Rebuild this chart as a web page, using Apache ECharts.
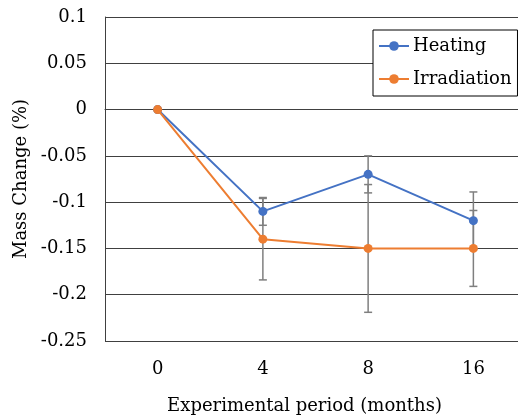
<!DOCTYPE html>
<html>
<head>
<meta charset="utf-8">
<script src="https://cdn.jsdelivr.net/npm/echarts@6/dist/echarts.min.js"></script>
<style>html,body{margin:0;padding:0;background:#fff}#c{width:518px;height:418px}</style>
</head>
<body>
<div id="c"></div>
<script>
const categories = ['0', '4', '8', '16'];
const heating = [0, -0.11, -0.07, -0.12];
const irradiation = [0, -0.14, -0.15, -0.15];
const heatingErr = [0, 0.015, 0.02, 0.031];
const irradiationErr = [0, 0.044, 0.069, 0.041];
const yTicks = { min: -0.25, max: 0.1, interval: 0.05 };

const FONT = 'DejaVu Serif';
const FS = 18;
function errData(vals, errs) {
  return vals.map((v, i) => [i, v - errs[i], v + errs[i]]);
}
function renderErr(params, api) {
  const x = api.value(0);
  const lo = api.coord([x, api.value(1)]);
  const hi = api.coord([x, api.value(2)]);
  if (Math.abs(lo[1] - hi[1]) < 0.5) return null;
  const w = 4;
  const style = { stroke: '#7f7f7f', lineWidth: 1.5 };
  return {
    type: 'group',
    children: [
      { type: 'line', shape: { x1: lo[0], y1: lo[1], x2: hi[0], y2: hi[1] }, style },
      { type: 'line', shape: { x1: lo[0] - w, y1: lo[1], x2: lo[0] + w, y2: lo[1] }, style },
      { type: 'line', shape: { x1: hi[0] - w, y1: hi[1], x2: hi[0] + w, y2: hi[1] }, style }
    ]
  };
}
const chart = echarts.init(document.getElementById('c'), null, { renderer: 'canvas' });
chart.setOption({
  animation: false,
  backgroundColor: '#fff',
  textStyle: { fontFamily: FONT },
  grid: { left: 105, top: 17, height: 324, width: 421, containLabel: false, outerBoundsMode: 'none' },
  legend: {
    orient: 'vertical',
    left: 373, top: 30,
    padding: [7, 6, 8, 5],
    itemGap: 15,
    itemWidth: 30, itemHeight: 12,
    borderColor: '#000', borderWidth: 1,
    backgroundColor: '#fff',
    textStyle: { fontFamily: FONT, fontSize: FS, color: '#000', padding: [0, 0, 0, -1] },
    data: ['Heating', 'Irradiation']
  },
  xAxis: {
    type: 'category',
    data: categories,
    boundaryGap: true,
    name: 'Experimental period (months)',
    nameLocation: 'middle',
    nameGap: 56,
    nameTextStyle: { fontFamily: FONT, fontSize: FS, color: '#000', padding: [0, 22, 0, 0] },
    axisLine: { show: true, lineStyle: { color: '#404040', width: 1 } },
    axisTick: { show: false },
    axisLabel: { fontFamily: FONT, fontSize: FS, color: '#000', margin: 19 },
    splitLine: { show: false }
  },
  yAxis: {
    type: 'value',
    min: yTicks.min, max: yTicks.max, interval: yTicks.interval,
    name: 'Mass Change (%)',
    nameLocation: 'middle',
    nameGap: 73,
    nameTextStyle: { fontFamily: FONT, fontSize: FS, color: '#000' },
    axisLine: { show: true, lineStyle: { color: '#404040', width: 1 } },
    axisTick: { show: false },
    axisLabel: {
      fontFamily: FONT, fontSize: FS, color: '#000', margin: 18,
      formatter: v => { const r = Math.round(v * 100) / 100; return String(r); }
    },
    splitLine: { show: true, lineStyle: { color: '#404040', width: 1 } }
  },
  series: [
    { type: 'custom', name: 'errH', data: errData(heating, heatingErr), renderItem: renderErr, encode: { x: 0, y: [1, 2] }, z: 1, silent: true },
    { type: 'custom', name: 'errI', data: errData(irradiation, irradiationErr), renderItem: renderErr, encode: { x: 0, y: [1, 2] }, z: 1, silent: true },
    { type: 'line', name: 'Heating', data: heating, color: '#4472C4', symbol: 'circle', symbolSize: 9,
      lineStyle: { width: 2 }, z: 2 },
    { type: 'line', name: 'Irradiation', data: irradiation, color: '#ED7D31', symbol: 'circle', symbolSize: 9,
      lineStyle: { width: 2 }, z: 3 }
  ]
});
</script>
</body>
</html>
